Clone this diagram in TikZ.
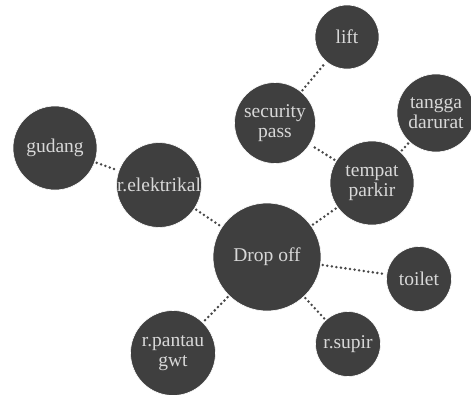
\documentclass[tikz,border=0pt]{standalone}
\usepackage{fontspec}
\setmainfont{Liberation Serif}
\definecolor{bub}{HTML}{3F3F3F}
\definecolor{txt}{HTML}{D8D8D8}
\definecolor{dotc}{HTML}{484848}
\begin{document}
\begin{tikzpicture}[x=1pt,y=-1pt,
  bubble/.style={circle, fill=bub, draw=white, line width=0.6pt, inner sep=0pt, text=txt,
    align=center, font=\fontsize{19.5}{19.5}\selectfont},
  link/.style={draw=dotc, line width=2.8pt, line cap=round, dash pattern=on 0pt off 4.6pt, shorten <=2pt, shorten >=2pt}]
\useasboundingbox (0,0) rectangle (471,394);
\node[bubble, minimum size=108pt] (drop) at (267,257) {Drop off};
\node[bubble, minimum size=84pt] (elek) at (159,185) {r.elektrikal};
\node[bubble, minimum size=84pt] (gud) at (55,148) {gudang};
\node[bubble, minimum size=81pt] (sec) at (275,123) {security\\pass};
\node[bubble, minimum size=64pt] (lift) at (347,37) {lift};
\node[bubble, minimum size=84pt] (park) at (372,183) {tempat\\parkir};
\node[bubble, minimum size=78pt] (tang) at (436,113) {tangga\\darurat};
\node[bubble, minimum size=65pt] (toil) at (419,279) {toilet};
\node[bubble, minimum size=65pt] (supir) at (348,344) {r.supir};
\node[bubble, minimum size=85pt] (pant) at (173,353) {r.pantau\\gwt};
\path[link] (gud) -- (elek);
\path[link] (elek) -- (drop);
\path[link] (drop) -- (pant);
\path[link] (drop) -- (supir);
\path[link] (drop) -- (toil);
\path[link] (drop) -- (park);
\path[link] (park) -- (sec);
\path[link] (sec) -- (lift);
\path[link] (park) -- (tang);
\end{tikzpicture}
\end{document}
